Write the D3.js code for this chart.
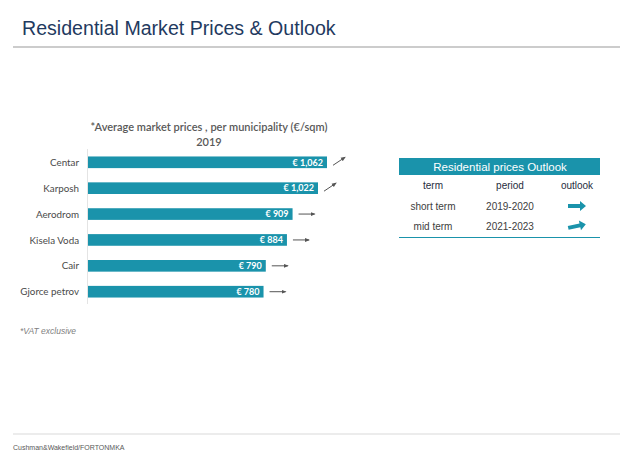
<!DOCTYPE html>
<html><head><meta charset="utf-8">
<script src="https://cdn.jsdelivr.net/npm/d3@7"></script>
<style>body{margin:0;background:#fff}svg{display:block}</style>
</head><body>
<svg id="c" width="620" height="463"></svg>
<script>
const categories = ["Centar","Karposh","Aerodrom","Kisela Voda","Cair","Gjorce petrov"];
const prices = [1062,1022,909,884,790,780];
const priceLabels = ["€ 1,062","€ 1,022","€ 909","€ 884","€ 790","€ 780"];
const trends = ["up","up","flat","flat","flat","flat"];
const outlookTerms = ["short term","mid term"];
const outlookPeriods = ["2019-2020","2021-2023"];
const outlookTrends = ["flat","slightup"];
const outlookHeaders = ["term","period","outlook"];

const svg = d3.select("#c");
const teal = "#1a93ab";

// header
svg.append("text").attr("x",22).attr("y",35).attr("font-family","Liberation Sans, Arial, sans-serif")
  .attr("font-size",19.6).attr("fill","#1f3a60").text("Residential Market Prices & Outlook");
svg.append("line").attr("x1",13).attr("x2",620).attr("y1",47).attr("y2",47).attr("stroke","#cccccc").attr("stroke-width",2);

// chart title
svg.append("text").attr("x",209).attr("y",131).attr("text-anchor","middle").attr("font-family","Lato, sans-serif")
  .attr("font-size",11).attr("font-weight",600).attr("fill","#595959").text("*Average market prices , per municipality  (€/sqm)");
svg.append("text").attr("x",209).attr("y",146).attr("text-anchor","middle").attr("font-family","Lato, sans-serif")
  .attr("font-size",11).attr("font-weight",600).attr("fill","#595959").text("2019");

const x = d3.scaleLinear().domain([0,1062]).range([88,327]);
const y = d3.scaleBand().domain(categories).range([150,304]).paddingInner(0.55).paddingOuter(0.25);

svg.append("line").attr("x1",87.5).attr("x2",87.5).attr("y1",149).attr("y2",304).attr("stroke","#e4e4e4");

const g = svg.append("g");
g.selectAll("rect").data(categories).join("rect")
  .attr("x",x(0)).attr("y",d=>y(d)).attr("width",(d,i)=>x(prices[i])-x(0)).attr("height",y.bandwidth()).attr("fill",teal);
g.selectAll("text.v").data(categories).join("text").attr("class","v")
  .attr("x",(d,i)=>x(prices[i])-4).attr("y",d=>y(d)+y.bandwidth()/2+3.3).attr("text-anchor","end")
  .attr("font-family","Lato, sans-serif").attr("font-size",9).attr("font-weight",700).attr("fill","#fff")
  .text((d,i)=>priceLabels[i]);
g.selectAll("text.c").data(categories).join("text").attr("class","c")
  .attr("x",79).attr("y",d=>y(d)+y.bandwidth()/2+3.6).attr("text-anchor","end")
  .attr("font-family","Lato, sans-serif").attr("font-size",9.8).attr("fill","#4a4a4a").text(d=>d);

// trend arrows
const defs = svg.append("defs");
defs.append("marker").attr("id","ah").attr("viewBox","0 0 10 10").attr("refX",8).attr("refY",5)
  .attr("markerWidth",5).attr("markerHeight",5).attr("orient","auto")
  .append("path").attr("d","M0,1 L10,5 L0,9 Z").attr("fill","#555");
categories.forEach((c,i)=>{
  const x0 = x(prices[i])+6, cy = y(c)+y.bandwidth()/2;
  const up = trends[i]==="up";
  svg.append("line").attr("x1",x0).attr("y1",up?cy+3:cy).attr("x2",up?x0+12:x0+16).attr("y2",up?cy-5:cy)
    .attr("stroke","#555").attr("stroke-width",1).attr("marker-end","url(#ah)");
});

// note
svg.append("text").attr("x",20).attr("y",334).attr("font-family","Liberation Sans, Arial, sans-serif")
  .attr("font-size",8.5).attr("font-style","italic").attr("fill","#808080").text("*VAT exclusive");

// outlook table
svg.append("rect").attr("x",399).attr("y",158).attr("width",201).attr("height",17).attr("fill",teal);
svg.append("text").attr("x",500).attr("y",171).attr("text-anchor","middle").attr("font-family","Liberation Sans, Arial, sans-serif")
  .attr("font-size",11.5).attr("fill","#fff").text("Residential prices Outlook");
const colX = [433,510,577];
outlookHeaders.forEach((h,i)=>svg.append("text").attr("x",colX[i]).attr("y",189).attr("text-anchor","middle")
  .attr("font-family","Liberation Sans, Arial, sans-serif").attr("font-size",10).attr("fill","#1f2d3d").text(h));
const rowY = [210,230];
outlookTerms.forEach((t,i)=>{
  svg.append("text").attr("x",colX[0]).attr("y",rowY[i]).attr("text-anchor","middle")
    .attr("font-family","Liberation Sans, Arial, sans-serif").attr("font-size",10).attr("fill","#404040").text(t);
  svg.append("text").attr("x",colX[1]).attr("y",rowY[i]).attr("text-anchor","middle")
    .attr("font-family","Liberation Sans, Arial, sans-serif").attr("font-size",10).attr("fill","#404040").text(outlookPeriods[i]);
  const cx = 577, cy = rowY[i]-4;
  const ang = outlookTrends[i]==="flat" ? 0 : -12;
  svg.append("path").attr("d","M-9,-2 L3,-2 L3,-5 L9,0 L3,5 L3,2 L-9,2 Z")
    .attr("transform",`translate(${cx},${cy}) rotate(${ang})`).attr("fill",teal);
});
svg.append("line").attr("x1",399).attr("x2",600).attr("y1",237.5).attr("y2",237.5).attr("stroke",teal).attr("stroke-width",1);

// footer
svg.append("line").attr("x1",13).attr("x2",620).attr("y1",434).attr("y2",434).attr("stroke","#d9d9d9").attr("stroke-width",1);
svg.append("text").attr("x",13).attr("y",450).attr("font-family","Liberation Sans, Arial, sans-serif")
  .attr("font-size",7).attr("fill","#595959").text("Cushman&Wakefield/FORTONMKA");
</script>
</body></html>
